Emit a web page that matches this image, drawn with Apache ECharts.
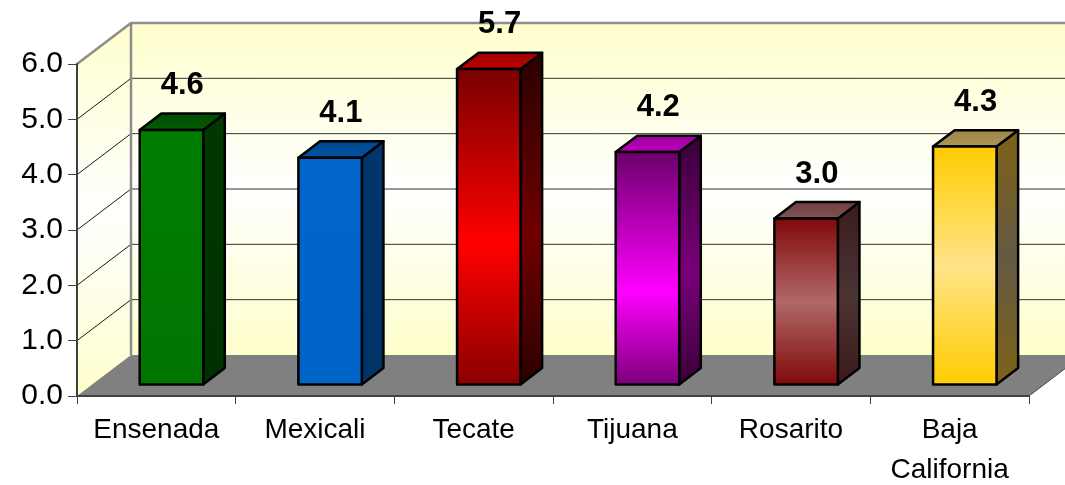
<!DOCTYPE html>
<html>
<head>
<meta charset="utf-8">
<script src="https://cdn.jsdelivr.net/npm/echarts@6/dist/echarts.min.js"></script>
<style>
  html, body { margin: 0; padding: 0; background: #ffffff; }
  #chart { width: 1065px; height: 485px; }
</style>
</head>
<body>
<div id="chart"></div>
<script>
// Municipalities and their values
const categories = ['Ensenada', 'Mexicali', 'Tecate', 'Tijuana', 'Rosarito', 'Baja California'];
const values = [4.6, 4.1, 5.7, 4.2, 3.0, 4.3];
const yMin = 0;
const yMax = 6;
const yStep = 1;

const FONT = '"Liberation Sans", Arial, sans-serif';

// 3D box geometry (pixels): full depth of the floor and placement of the bars in it
const DX = 54, DY = -41;
const BAR_FRONT = 0.28;   // bar front plane, as a fraction of the depth
const BAR_DEPTH = 0.40;   // bar depth, as a fraction of the depth
const BAR_WIDTH = 0.40;   // bar width, as a fraction of the category band

const LG = (stops) => new echarts.graphic.LinearGradient(0, 0, 0, 1,
  stops.map(s => ({ offset: s[0], color: s[1] })));

// Face colours of each bar: front, side, top
const barStyles = [
  { front: [[0, '#007d00'], [1, '#007500']], side: [[0, '#003a00'], [1, '#003000']], top: [[0, '#004800'], [1, '#006000']] },
  { front: [[0, '#0066cc'], [1, '#0064c8']], side: [[0, '#00366b'], [1, '#003366']], top: [[0, '#00448a'], [1, '#0055a8']] },
  { front: [[0, '#780000'], [0.55, '#ff0000'], [1, '#880000']], side: [[0, '#2a0000'], [0.55, '#700000'], [1, '#2a0000']], top: [[0, '#9a0000'], [1, '#c40000']] },
  { front: [[0, '#6a006a'], [0.6, '#ff00ff'], [1, '#7a007a']], side: [[0, '#380038'], [0.55, '#7a007a'], [1, '#380038']], top: [[0, '#9a009a'], [1, '#c000c0']] },
  { front: [[0, '#800808'], [0.5, '#b06868'], [1, '#800808']], side: [[0, '#3c1a1a'], [0.5, '#4a3434'], [1, '#3c1a1a']], top: [[0, '#6e3e3e'], [1, '#845454']] },
  { front: [[0, '#ffcc00'], [0.5, '#ffe488'], [1, '#ffcc00']], side: [[0, '#7e6216'], [0.5, '#645a44'], [1, '#7e6216']], top: [[0, '#9c8448'], [1, '#b09858']] }
];

const wallFill = () => LG([[0, '#ffffcc'], [0.5, '#ffffff'], [1, '#ffffcc']]);

// Walls, floor and gridlines of the 3D plot box
function renderWalls(params, api) {
  const cs = params.coordSys;
  const x0 = cs.x, x1 = cs.x + cs.width;
  const yOf = v => api.coord([0, v])[1];
  const yBottom = yOf(yMin), yTop = yOf(yMax);
  const children = [];

  // left side wall
  children.push({
    type: 'polygon',
    shape: { points: [[x0, yTop], [x0 + DX, yTop + DY], [x0 + DX, yBottom + DY], [x0, yBottom]] },
    style: { fill: wallFill() }
  });
  // back wall
  children.push({
    type: 'rect',
    shape: { x: x0 + DX, y: yTop + DY, width: x1 - x0 + 40, height: yBottom - yTop },
    style: { fill: wallFill() }
  });
  // floor
  children.push({
    type: 'polygon',
    shape: { points: [[x0, yBottom], [x1, yBottom], [x1 + DX, yBottom + DY], [x0 + DX, yBottom + DY]] },
    style: { fill: '#808080' }
  });
  // gridlines on the back and side walls
  for (let v = yMin + yStep; v < yMax; v += yStep) {
    const y = yOf(v);
    children.push({
      type: 'line',
      shape: { x1: x0, y1: y, x2: x0 + DX, y2: y + DY },
      style: { stroke: '#1a1a1a', lineWidth: 1 }
    });
    children.push({
      type: 'line',
      shape: { x1: x0 + DX, y1: y + DY, x2: x1 + DX + 40, y2: y + DY },
      style: { stroke: '#333333', lineWidth: 1 }
    });
  }
  // wall edges
  children.push({
    type: 'polyline',
    shape: { points: [[x0, yTop], [x0 + DX, yTop + DY], [x1 + DX + 40, yTop + DY]] },
    style: { stroke: '#8c8c8c', lineWidth: 2.5, fill: null }
  });
  children.push({
    type: 'line',
    shape: { x1: x0 + DX, y1: yTop + DY, x2: x0 + DX, y2: yBottom + DY },
    style: { stroke: '#8c8c8c', lineWidth: 2.5 }
  });
  // right edge of the floor
  children.push({
    type: 'line',
    shape: { x1: x1, y1: yBottom, x2: x1 + DX, y2: yBottom + DY },
    style: { stroke: '#4d4d4d', lineWidth: 1 }
  });
  return { type: 'group', children: children };
}

// One 3D bar with its value label
function renderBar(params, api) {
  const i = api.value(0);
  const v = api.value(1);
  const base = api.coord([i, 0]);
  const top = api.coord([i, v]);
  const band = api.size([1, 0])[0];
  const w = band * BAR_WIDTH;
  const fx = DX * BAR_FRONT, fy = DY * BAR_FRONT;
  const dx = DX * BAR_DEPTH, dy = DY * BAR_DEPTH;
  const xl = base[0] - w / 2 + fx, xr = xl + w;
  const yb = base[1] + fy, yt = top[1] + fy;
  const st = barStyles[params.dataIndex];
  const edge = { stroke: '#000000', lineWidth: 2.5, lineJoin: 'round' };

  return {
    type: 'group',
    children: [
      {
        type: 'polygon',
        shape: { points: [[xr, yt], [xr + dx, yt + dy], [xr + dx, yb + dy], [xr, yb]] },
        style: Object.assign({ fill: LG(st.side) }, edge)
      },
      {
        type: 'polygon',
        shape: { points: [[xl, yt], [xl + dx, yt + dy], [xr + dx, yt + dy], [xr, yt]] },
        style: Object.assign({ fill: LG(st.top) }, edge)
      },
      {
        type: 'rect',
        shape: { x: xl, y: yt, width: w, height: yb - yt },
        style: Object.assign({ fill: LG(st.front) }, edge)
      },
      {
        type: 'text',
        style: {
          text: v.toFixed(1),
          x: base[0] + fx + dx / 2,
          y: yt + dy / 2 - 36,
          align: 'center',
          verticalAlign: 'middle',
          font: 'bold 31px ' + FONT,
          fill: '#000000'
        }
      }
    ]
  };
}

const chart = echarts.init(document.getElementById('chart'), null, { renderer: 'canvas' });

chart.setOption({
  animation: false,
  backgroundColor: '#ffffff',
  grid: { left: 77, right: 36, top: 64, bottom: 89, containLabel: false, outerBoundsMode: 'none' },
  xAxis: {
    type: 'category',
    data: categories,
    z: 5,
    axisLine: { lineStyle: { color: '#404040', width: 2 } },
    axisTick: { show: true, length: 8, lineStyle: { color: '#404040', width: 1 } },
    axisLabel: {
      interval: 0,
      color: '#000000',
      fontFamily: FONT,
      fontSize: 28,
      lineHeight: 40,
      margin: 14,
      formatter: s => s.replace(' ', '\n')
    },
    splitLine: { show: false }
  },
  yAxis: {
    type: 'value',
    min: yMin,
    max: yMax,
    interval: yStep,
    z: 5,
    axisLine: { show: true, lineStyle: { color: '#404040', width: 2 } },
    axisTick: { show: true, length: 9, lineStyle: { color: '#404040', width: 1 } },
    axisLabel: {
      color: '#000000',
      fontFamily: FONT,
      fontSize: 30,
      margin: 14,
      formatter: v => v.toFixed(1)
    },
    splitLine: { show: false }
  },
  series: [
    {
      type: 'custom',
      name: 'walls',
      z: 1,
      clip: false,
      silent: true,
      renderItem: renderWalls,
      data: [[0, 0]]
    },
    {
      type: 'custom',
      name: 'bars',
      z: 2,
      clip: false,
      renderItem: renderBar,
      encode: { x: 0, y: 1 },
      data: values.map((v, i) => [i, v])
    }
  ]
});
</script>
</body>
</html>
